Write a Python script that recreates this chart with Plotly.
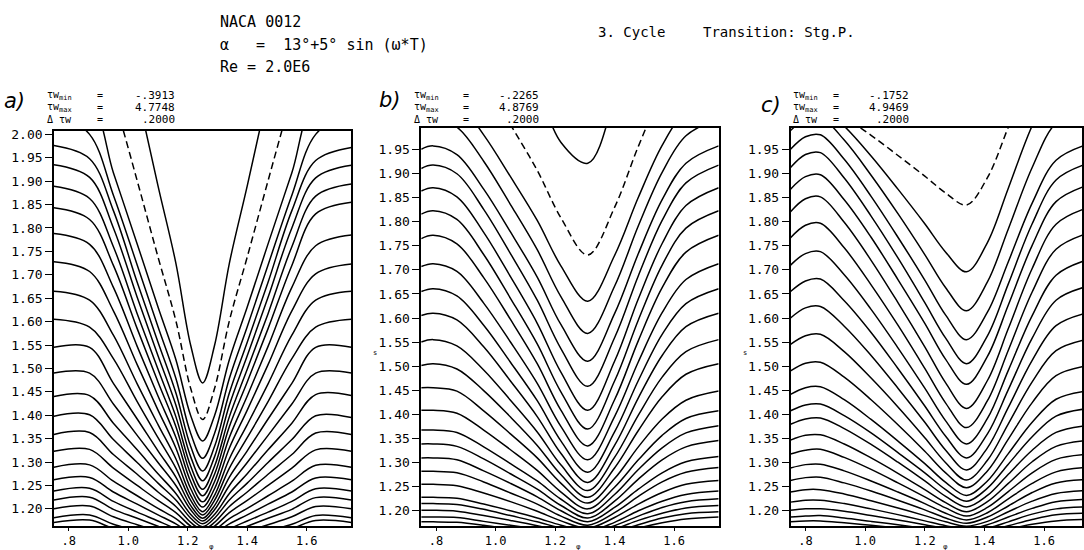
import plotly.graph_objects as go

# ---------------- data ----------------
# contour levels (wall shear stress), contour interval 0.2
LEVELS_A = [-0.2, 0.0, 0.2, 0.4, 0.6, 0.8, 1.0, 1.2, 1.4, 1.6, 1.8, 2.0, 2.2, 2.4,
            2.6, 2.8, 3.0, 3.2, 3.4, 3.6, 3.8, 4.0, 4.2, 4.4, 4.6]
LEVELS_B = [-0.2, 0.0, 0.2, 0.4, 0.6, 0.8, 1.0, 1.2, 1.4, 1.6, 1.8, 2.0, 2.2, 2.4,
            2.6, 2.8, 3.0, 3.2, 3.4, 3.6, 3.8, 4.0, 4.2, 4.4, 4.6, 4.8]
LEVELS_C = [0.0, 0.2, 0.4, 0.6, 0.8, 1.0, 1.2, 1.4, 1.6, 1.8, 2.0, 2.2, 2.4,
            2.6, 2.8, 3.0, 3.2, 3.4, 3.6, 3.8, 4.0, 4.2, 4.4, 4.6, 4.8]

# panel a: x stations and contour-line y values (one row per level)
XA = [0.75, 0.87, 0.95, 1.03, 1.10, 1.16, 1.21, 1.25, 1.29, 1.34, 1.40, 1.47, 1.55, 1.63, 1.75]
YA = [
    [2.54, 2.54, 2.31, 2.09, 1.89, 1.725, 1.549, 1.469, 1.549, 1.725, 1.89, 2.09, 2.31, 2.54, 2.54],
    [2.27, 2.27, 2.085, 1.901, 1.738, 1.602, 1.457, 1.391, 1.457, 1.602, 1.738, 1.901, 2.085, 2.27, 2.27],
    [2.07, 2.07, 1.918, 1.766, 1.631, 1.519, 1.399, 1.345, 1.399, 1.519, 1.631, 1.766, 1.918, 2.07, 2.07],
    [2.05, 2.00, 1.870, 1.721, 1.589, 1.479, 1.361, 1.308, 1.361, 1.479, 1.589, 1.721, 1.870, 2.00, 2.05],
    [1.976, 1.948, 1.837, 1.684, 1.556, 1.448, 1.333, 1.281, 1.333, 1.448, 1.556, 1.684, 1.837, 1.944, 1.972],
    [1.935, 1.908, 1.800, 1.652, 1.527, 1.422, 1.311, 1.260, 1.311, 1.422, 1.527, 1.652, 1.800, 1.907, 1.934],
    [1.889, 1.863, 1.760, 1.617, 1.498, 1.397, 1.291, 1.242, 1.291, 1.397, 1.498, 1.617, 1.760, 1.868, 1.894],
    [1.843, 1.818, 1.720, 1.585, 1.471, 1.376, 1.274, 1.228, 1.274, 1.376, 1.471, 1.585, 1.720, 1.830, 1.855],
    [1.788, 1.765, 1.673, 1.547, 1.441, 1.353, 1.258, 1.215, 1.258, 1.353, 1.441, 1.547, 1.673, 1.762, 1.785],
    [1.728, 1.707, 1.623, 1.508, 1.411, 1.330, 1.243, 1.204, 1.243, 1.330, 1.411, 1.508, 1.623, 1.702, 1.723],
    [1.665, 1.646, 1.571, 1.467, 1.380, 1.307, 1.229, 1.194, 1.229, 1.307, 1.380, 1.467, 1.571, 1.646, 1.665],
    [1.605, 1.588, 1.521, 1.429, 1.352, 1.287, 1.218, 1.187, 1.218, 1.287, 1.352, 1.429, 1.521, 1.588, 1.605],
    [1.545, 1.545, 1.468, 1.392, 1.324, 1.268, 1.207, 1.180, 1.207, 1.268, 1.324, 1.392, 1.468, 1.545, 1.545],
    [1.490, 1.490, 1.424, 1.357, 1.299, 1.250, 1.198, 1.174, 1.198, 1.250, 1.299, 1.357, 1.424, 1.490, 1.490],
    [1.440, 1.442, 1.383, 1.326, 1.275, 1.233, 1.188, 1.168, 1.188, 1.233, 1.275, 1.326, 1.383, 1.444, 1.442],
    [1.398, 1.401, 1.348, 1.299, 1.255, 1.219, 1.180, 1.162, 1.180, 1.219, 1.255, 1.299, 1.348, 1.399, 1.395],
    [1.359, 1.363, 1.316, 1.274, 1.236, 1.205, 1.171, 1.156, 1.171, 1.205, 1.236, 1.274, 1.316, 1.362, 1.359],
    [1.323, 1.327, 1.287, 1.250, 1.218, 1.192, 1.163, 1.150, 1.163, 1.192, 1.218, 1.250, 1.287, 1.326, 1.323],
    [1.289, 1.294, 1.259, 1.228, 1.201, 1.179, 1.155, 1.144, 1.155, 1.179, 1.201, 1.228, 1.259, 1.293, 1.289],
    [1.262, 1.267, 1.236, 1.210, 1.187, 1.168, 1.147, 1.138, 1.147, 1.168, 1.187, 1.210, 1.236, 1.266, 1.262],
    [1.238, 1.244, 1.216, 1.193, 1.174, 1.157, 1.140, 1.132, 1.140, 1.157, 1.174, 1.193, 1.216, 1.243, 1.238],
    [1.219, 1.225, 1.199, 1.180, 1.163, 1.148, 1.133, 1.126, 1.133, 1.148, 1.163, 1.180, 1.199, 1.224, 1.219],
    [1.200, 1.206, 1.183, 1.166, 1.152, 1.139, 1.126, 1.120, 1.126, 1.139, 1.152, 1.166, 1.183, 1.205, 1.200],
    [1.181, 1.187, 1.167, 1.153, 1.140, 1.130, 1.119, 1.114, 1.119, 1.130, 1.140, 1.153, 1.167, 1.186, 1.181],
    [1.171, 1.176, 1.158, 1.145, 1.133, 1.123, 1.113, 1.108, 1.113, 1.123, 1.133, 1.145, 1.158, 1.175, 1.171],
]

# panel b
XB = [0.75, 0.79, 0.87, 0.96, 1.05, 1.14, 1.22, 1.31, 1.40, 1.48, 1.56, 1.64, 1.75]
YB = [
    [2.5, 2.5, 2.45, 2.35, 2.2, 2.08, 1.965, 1.922, 2.06, 2.3, 2.4, 2.45, 2.5],
    [2.175, 2.182, 2.164, 2.092, 2.002, 1.907, 1.808, 1.731, 1.830, 1.957, 2.069, 2.146, 2.182],
    [2.061, 2.067, 2.050, 1.981, 1.894, 1.803, 1.708, 1.635, 1.730, 1.851, 1.959, 2.032, 2.067],
    [2.008, 2.015, 1.997, 1.926, 1.836, 1.742, 1.644, 1.568, 1.666, 1.792, 1.903, 1.979, 2.015],
    [1.951, 1.958, 1.940, 1.868, 1.779, 1.685, 1.586, 1.510, 1.609, 1.734, 1.846, 1.922, 1.958],
    [1.911, 1.918, 1.900, 1.826, 1.734, 1.637, 1.536, 1.458, 1.559, 1.688, 1.803, 1.881, 1.918],
    [1.864, 1.871, 1.852, 1.778, 1.686, 1.589, 1.487, 1.408, 1.510, 1.640, 1.755, 1.834, 1.871],
    [1.816, 1.823, 1.805, 1.732, 1.641, 1.546, 1.446, 1.369, 1.469, 1.596, 1.710, 1.787, 1.823],
    [1.765, 1.772, 1.754, 1.684, 1.597, 1.505, 1.408, 1.334, 1.430, 1.553, 1.663, 1.737, 1.772],
    [1.707, 1.713, 1.697, 1.631, 1.550, 1.464, 1.374, 1.305, 1.395, 1.509, 1.611, 1.680, 1.713],
    [1.655, 1.661, 1.646, 1.585, 1.508, 1.428, 1.344, 1.279, 1.363, 1.470, 1.566, 1.630, 1.661],
    [1.605, 1.610, 1.596, 1.540, 1.469, 1.395, 1.318, 1.258, 1.335, 1.434, 1.522, 1.582, 1.610],
    [1.550, 1.555, 1.542, 1.492, 1.429, 1.363, 1.294, 1.241, 1.310, 1.398, 1.477, 1.530, 1.555],
    [1.501, 1.505, 1.494, 1.449, 1.394, 1.335, 1.274, 1.227, 1.288, 1.366, 1.436, 1.483, 1.505],
    [1.455, 1.455, 1.448, 1.407, 1.359, 1.309, 1.256, 1.215, 1.266, 1.332, 1.390, 1.429, 1.448],
    [1.408, 1.408, 1.402, 1.367, 1.326, 1.283, 1.238, 1.203, 1.248, 1.305, 1.356, 1.391, 1.407],
    [1.367, 1.367, 1.362, 1.332, 1.297, 1.261, 1.223, 1.193, 1.233, 1.285, 1.330, 1.361, 1.376],
    [1.338, 1.338, 1.333, 1.307, 1.276, 1.244, 1.210, 1.184, 1.219, 1.265, 1.305, 1.332, 1.345],
    [1.309, 1.309, 1.305, 1.282, 1.256, 1.228, 1.199, 1.176, 1.206, 1.244, 1.278, 1.301, 1.312],
    [1.281, 1.281, 1.278, 1.259, 1.236, 1.213, 1.188, 1.169, 1.195, 1.229, 1.259, 1.279, 1.289],
    [1.254, 1.254, 1.251, 1.236, 1.218, 1.198, 1.178, 1.163, 1.185, 1.213, 1.237, 1.254, 1.262],
    [1.227, 1.227, 1.225, 1.213, 1.199, 1.184, 1.169, 1.157, 1.175, 1.199, 1.219, 1.233, 1.240],
    [1.214, 1.214, 1.212, 1.202, 1.189, 1.176, 1.163, 1.152, 1.168, 1.188, 1.206, 1.218, 1.224],
    [1.200, 1.200, 1.198, 1.189, 1.179, 1.168, 1.156, 1.147, 1.161, 1.179, 1.194, 1.205, 1.210],
    [1.186, 1.186, 1.185, 1.177, 1.169, 1.160, 1.150, 1.143, 1.155, 1.170, 1.184, 1.193, 1.197],
    [1.176, 1.176, 1.175, 1.169, 1.161, 1.153, 1.145, 1.139, 1.149, 1.163, 1.174, 1.182, 1.186],
]

# panel c
XC = [0.75, 0.80, 0.85, 0.93, 1.02, 1.11, 1.20, 1.27, 1.34, 1.41, 1.48, 1.56, 1.64, 1.74]
YC = [
    [2.027, 2.039, 2.041, 2.017, 1.980, 1.938, 1.895, 1.860, 1.835, 1.892, 1.997, 2.119, 2.208, 2.24],
    [2.016, 2.037, 2.040, 1.999, 1.937, 1.868, 1.796, 1.737, 1.696, 1.757, 1.870, 2.000, 2.095, 2.13],
    [1.990, 2.014, 2.018, 1.970, 1.897, 1.817, 1.732, 1.663, 1.615, 1.675, 1.785, 1.913, 2.006, 2.04],
    [1.951, 1.977, 1.981, 1.930, 1.853, 1.768, 1.679, 1.606, 1.555, 1.612, 1.717, 1.839, 1.928, 1.960],
    [1.913, 1.940, 1.944, 1.891, 1.812, 1.725, 1.632, 1.558, 1.505, 1.563, 1.671, 1.796, 1.887, 1.920],
    [1.868, 1.894, 1.898, 1.846, 1.768, 1.680, 1.589, 1.514, 1.462, 1.520, 1.627, 1.751, 1.842, 1.875],
    [1.821, 1.848, 1.852, 1.799, 1.720, 1.632, 1.540, 1.465, 1.412, 1.470, 1.578, 1.703, 1.795, 1.828],
    [1.767, 1.793, 1.797, 1.746, 1.669, 1.585, 1.495, 1.423, 1.372, 1.428, 1.533, 1.654, 1.743, 1.775],
    [1.710, 1.734, 1.738, 1.690, 1.618, 1.538, 1.454, 1.386, 1.338, 1.391, 1.491, 1.605, 1.689, 1.720],
    [1.655, 1.677, 1.681, 1.636, 1.570, 1.495, 1.417, 1.354, 1.309, 1.359, 1.451, 1.558, 1.637, 1.665],
    [1.600, 1.621, 1.624, 1.583, 1.522, 1.454, 1.383, 1.325, 1.284, 1.330, 1.414, 1.512, 1.584, 1.610],
    [1.545, 1.563, 1.566, 1.530, 1.475, 1.415, 1.351, 1.299, 1.263, 1.304, 1.380, 1.467, 1.532, 1.555],
    [1.490, 1.506, 1.508, 1.477, 1.430, 1.378, 1.323, 1.278, 1.247, 1.282, 1.348, 1.424, 1.480, 1.500],
    [1.441, 1.455, 1.457, 1.430, 1.389, 1.344, 1.297, 1.258, 1.231, 1.261, 1.318, 1.383, 1.431, 1.448],
    [1.407, 1.419, 1.421, 1.397, 1.361, 1.320, 1.278, 1.243, 1.219, 1.246, 1.296, 1.353, 1.396, 1.411],
    [1.379, 1.390, 1.392, 1.370, 1.337, 1.300, 1.261, 1.229, 1.207, 1.231, 1.275, 1.325, 1.362, 1.376],
    [1.346, 1.356, 1.357, 1.338, 1.309, 1.277, 1.243, 1.216, 1.197, 1.218, 1.256, 1.301, 1.333, 1.345],
    [1.317, 1.325, 1.327, 1.310, 1.285, 1.257, 1.228, 1.205, 1.188, 1.206, 1.239, 1.278, 1.306, 1.316],
    [1.288, 1.295, 1.296, 1.282, 1.261, 1.238, 1.214, 1.194, 1.180, 1.195, 1.224, 1.256, 1.280, 1.289],
    [1.262, 1.268, 1.269, 1.257, 1.240, 1.221, 1.201, 1.184, 1.173, 1.186, 1.209, 1.237, 1.257, 1.264],
    [1.238, 1.243, 1.243, 1.234, 1.220, 1.205, 1.189, 1.176, 1.167, 1.177, 1.197, 1.219, 1.235, 1.241],
    [1.217, 1.221, 1.221, 1.214, 1.203, 1.191, 1.178, 1.168, 1.161, 1.170, 1.186, 1.204, 1.218, 1.223],
    [1.200, 1.203, 1.203, 1.198, 1.189, 1.180, 1.170, 1.162, 1.156, 1.163, 1.176, 1.192, 1.203, 1.207],
    [1.186, 1.188, 1.189, 1.184, 1.177, 1.170, 1.162, 1.156, 1.151, 1.157, 1.168, 1.181, 1.191, 1.194],
    [1.176, 1.178, 1.178, 1.174, 1.169, 1.163, 1.156, 1.151, 1.147, 1.152, 1.161, 1.171, 1.178, 1.181],
]

# tick values / labels
X_TICKS = [0.8, 1.0, 1.2, 1.4, 1.6]
X_TICKTEXT = [".8", "1.0", "1.2", "1.4", "1.6"]
Y_TICKS_A = [1.20, 1.25, 1.30, 1.35, 1.40, 1.45, 1.50, 1.55, 1.60, 1.65, 1.70, 1.75,
             1.80, 1.85, 1.90, 1.95, 2.00]
Y_TICKS_BC = [1.20, 1.25, 1.30, 1.35, 1.40, 1.45, 1.50, 1.55, 1.60, 1.65, 1.70, 1.75,
              1.80, 1.85, 1.90, 1.95]

PANEL_LETTERS = ["a)", "b)", "c)"]
TAU_MIN = ["-.3913", "-.2265", "-.1752"]
TAU_MAX = ["4.7748", "4.8769", "4.9469"]
D_TAU = [".2000", ".2000", ".2000"]

TITLE_LINES = ["NACA 0012", "\u03b1   =  13\u00b0+5\u00b0 sin (\u03c9*T)", "Re = 2.0E6"]
CYCLE_TEXT = "3. Cycle"
TRANSITION_TEXT = "Transition: Stg.P."

# ---------------- figure ----------------
W, H = 1084, 550
MONO = "DejaVu Sans Mono"


def px(x):
    return x / W


def py(y):
    return 1 - y / H


fig = go.Figure()

panels = [
    (XA, YA, LEVELS_A, "x", "y"),
    (XB, YB, LEVELS_B, "x2", "y2"),
    (XC, YC, LEVELS_C, "x3", "y3"),
]
for xs, ys, levels, xa, ya in panels:
    for lev, yv in zip(levels, ys):
        fig.add_trace(go.Scatter(
            x=xs, y=yv, mode="lines", xaxis=xa, yaxis=ya, hoverinfo="skip",
            line=dict(color="black", width=1.5, shape="spline", smoothing=1.0,
                      dash="7px,4px" if lev == 0 else "solid"),
            showlegend=False))

axis_common = dict(showline=True, mirror=True, linecolor="black", linewidth=1.5,
                   showgrid=False, zeroline=False, ticks="outside", tickcolor="black",
                   tickfont=dict(family=MONO, size=13, color="black"))

x_domains = [[px(54), px(352)], [px(422), px(720)], [px(792), 1.0]]
x_ranges = [[0.75, 1.75], [0.75, 1.75], [0.75, 1.727]]
y_domains = [[py(526), py(128)], [py(526), py(125)], [py(526), py(125)]]
y_ranges = [[1.163, 2.007], [1.167, 1.995], [1.167, 1.995]]
y_ticks = [Y_TICKS_A, Y_TICKS_BC, Y_TICKS_BC]

layout = dict(width=W, height=H, autosize=False, margin=dict(l=0, r=0, t=0, b=0),
              paper_bgcolor="white", plot_bgcolor="white", showlegend=False)
names = [("xaxis", "yaxis", "y", "x"), ("xaxis2", "yaxis2", "y2", "x2"), ("xaxis3", "yaxis3", "y3", "x3")]
for i, (xn, yn, yanchor, xanchor) in enumerate(names):
    layout[xn] = dict(axis_common, domain=x_domains[i], range=x_ranges[i], anchor=yanchor,
                      tickvals=X_TICKS, ticktext=X_TICKTEXT, ticklen=3,
                      tickfont=dict(family=MONO, size=12, color="black"))
    layout[yn] = dict(axis_common, domain=y_domains[i], range=y_ranges[i], anchor=xanchor,
                      tickvals=y_ticks[i], tickformat=".2f", ticklen=7)
fig.update_layout(**layout)

ann = []


def text(x, y, s, size=12, xanchor="left", family=MONO, italic=False):
    ann.append(dict(x=px(x), y=py(y), xref="paper", yref="paper", text=s, showarrow=False,
                    xanchor=xanchor, yanchor="middle",
                    font=dict(family=family, size=size, color="black",
                              style="italic" if italic else "normal")))


# title block
text(218, 18, TITLE_LINES[0], size=15)
text(218, 41, TITLE_LINES[1], size=15)
text(218, 63, TITLE_LINES[2], size=15)
text(597, 28, CYCLE_TEXT, size=14)
text(702, 28, TRANSITION_TEXT, size=14)

# panel headers
letter_pos = [(15, 98), (391, 97), (772, 102)]
col_pos = [(45, 100, 177), (413, 467, 542), (792, 838, 913)]
for i in range(3):
    lx, ly = letter_pos[i]
    text(lx, ly, PANEL_LETTERS[i], size=21, xanchor="center", family="DejaVu Sans", italic=True)
    c1, c2, c3 = col_pos[i]
    rows = [("\u03c4w<sub>min</sub>", TAU_MIN[i]), ("\u03c4w<sub>max</sub>", TAU_MAX[i]),
            ("\u0394 \u03c4w", D_TAU[i])]
    for r, (lab, val) in enumerate(rows):
        yy = 92 + 12 * r
        text(c1, yy, lab, size=10)
        text(c2, yy, "=", size=10, xanchor="center")
        text(c3, yy, val, size=11, xanchor="right")

# small axis-title glyphs (below the axis, between the 1.2 and 1.4 labels)
for xr in ["x domain", "x2 domain", "x3 domain"]:
    ann.append(dict(x=0.53, y=py(547), xref=xr, yref="paper", text="\u03c6", showarrow=False,
                    xanchor="center", yanchor="middle",
                    font=dict(family="DejaVu Sans", size=7, color="black")))
for xx in [376, 746]:
    text(xx, 352, "s", size=7, xanchor="center")

fig.update_layout(annotations=ann)
fig.write_html("out.html", config={"displayModeBar": False},
               post_script="document.body.style.margin='0';document.body.style.overflow='hidden';")
